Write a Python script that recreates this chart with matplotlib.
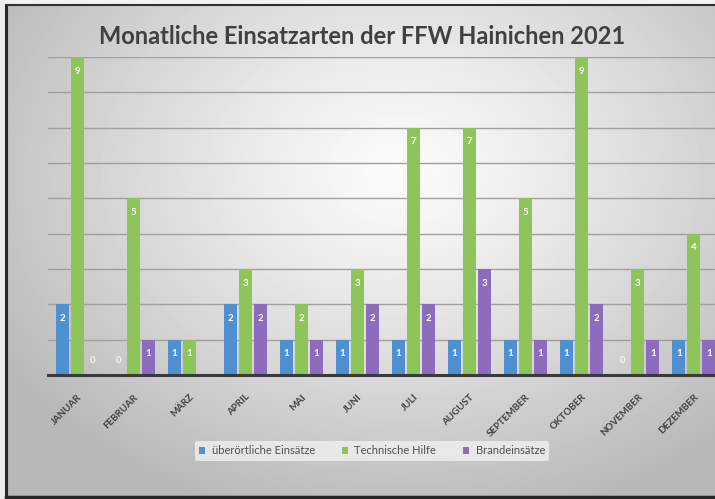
import matplotlib.pyplot as plt
import numpy as np

plt.rcParams['font.family'] = ['Lato', 'DejaVu Sans']

months = ['Januar', 'Februar', 'März', 'April', 'Mai', 'Juni', 'Juli',
          'August', 'September', 'Oktober', 'November', 'Dezember']
ueberoertlich = [2, 0, 1, 2, 1, 1, 1, 1, 1, 1, 0, 1]
technisch = [9, 5, 1, 3, 2, 3, 7, 7, 5, 9, 3, 4]
brand = [0, 1, np.nan, 2, 1, 2, 2, 3, 1, 2, 1, 1]
series_names = ['überörtliche Einsätze', 'Technische Hilfe', 'Brandeinsätze']
colors = ['#4f90d0', '#8dc55a', '#8c6cbc']

W, H = 715, 499
fig = plt.figure(figsize=(W / 100, H / 100), dpi=100)

# background: soft radial grey gradient + dark frame
bg = fig.add_axes([0, 0, 1, 1])
X, Y = np.meshgrid(np.arange(W), np.arange(H))
r = np.sqrt(((X - 400) / 420) ** 2 + ((Y - 170) / 320) ** 2)
shade = np.clip(0.985 - 0.23 * r ** 1.2, 0.72, 1)
bg.imshow(shade, cmap='gray', vmin=0, vmax=1, extent=[0, W, H, 0], aspect='auto')
bg.fill_between([0, W], 0, 4, color='#f2f2f2')
bg.fill_between([0, 4], 0, H, color='#ececec')
bg.plot([5.5, 5.5], [4.5, 497], color='#262626', lw=2.2)
bg.plot([5.5, W], [5, 5], color='#303030', lw=1.5)
bg.plot([5.5, W], [496.5, 496.5], color='#262626', lw=2.5)
bg.set_xlim(0, W)
bg.set_ylim(H, 0)
bg.axis('off')

ax = fig.add_axes([48 / W, (H - 375) / H, (W - 48) / W, 318 / H])
ax.patch.set_alpha(0)

x = np.arange(len(months))
step, width = 0.268, 0.232
data = [ueberoertlich, technisch, brand]
for k, (vals, col, name) in enumerate(zip(data, colors, series_names)):
    xs = x + (k - 1) * step
    vals = np.array(vals, dtype=float)
    ax.bar(xs, vals, width, color=col, label=name, zorder=3)
    for xi, v in zip(xs, vals):
        if np.isnan(v):
            continue
        if v == 0:
            ax.text(xi, 0.42, '0', ha='center', va='center', fontsize=7,
                    weight='bold', color='white', alpha=0.8, zorder=4)
        else:
            ax.text(xi, v - 0.4, str(int(v)), ha='center', va='center',
                    fontsize=7, weight='bold', color='white', zorder=4)

ax.set_xlim(-0.527, 11.38)
ax.set_ylim(0, 9)
ax.set_yticks(range(1, 10))
ax.yaxis.grid(True, color='#a39f9f', lw=1)
ax.tick_params(left=False, labelleft=False, bottom=False)
for s in ['left', 'right', 'top']:
    ax.spines[s].set_visible(False)
ax.spines['bottom'].set_color('#3a3a3a')
ax.spines['bottom'].set_linewidth(2.2)
ax.spines['bottom'].set_zorder(5)

ax.set_xticks(x)
ax.set_xticklabels([m.upper() for m in months], rotation=45, ha='right',
                   rotation_mode='anchor', fontsize=7, weight='bold',
                   color='#404040')
ax.tick_params(axis='x', pad=9)

fig.text(362 / W, 1 - 36 / H, 'Monatliche Einsatzarten der FFW Hainichen 2021',
         ha='center', va='center', fontsize=17, weight='bold', color='#404040')

leg = fig.legend(loc='center', bbox_to_anchor=(372 / W, 1 - 451 / H), ncol=3,
                 fontsize=8, frameon=True, facecolor='#f6f6f6', edgecolor='none',
                 framealpha=0.7, handlelength=0.55, handleheight=0.55,
                 handletextpad=0.6, columnspacing=2.4, labelcolor='#505050')

fig.savefig('out.png', dpi=100)
